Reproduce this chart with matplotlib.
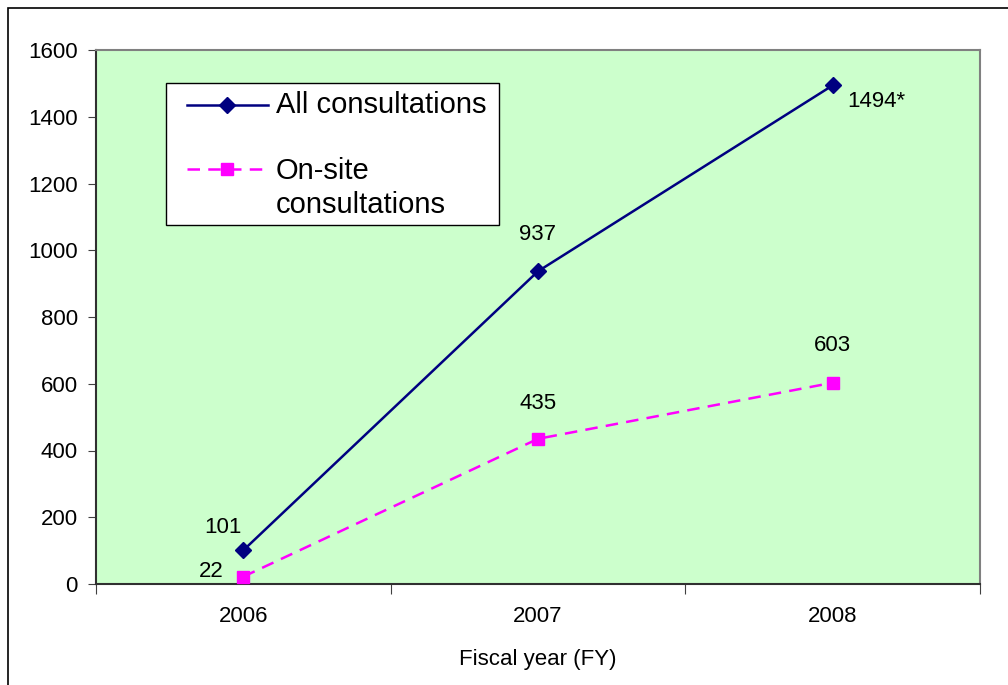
import matplotlib.pyplot as plt
from matplotlib.patches import Rectangle
from matplotlib.lines import Line2D
import numpy as np

plt.rcParams['font.family'] = ['Liberation Sans', 'DejaVu Sans']

# ===================== DATOS =====================
years = ["2006", "2007", "2008"]
all_consult = [101, 937, 1494]
onsite_consult = [22, 435, 603]
all_labels = ["101", "937", "1494*"]
onsite_labels = ["22", "435", "603"]
y_ticks = [0, 200, 400, 600, 800, 1000, 1200, 1400, 1600]
# =================================================

NAVY = "#000080"
MAGENTA = "#FF00FF"
DASH = (0, (5, 3.3))
LW = 1.8

fig = plt.figure(figsize=(10.08, 6.85), dpi=100)
ax = fig.add_axes([96 / 1008, 1 - 584 / 685, (980 - 96) / 1008, (584 - 50) / 685])


def px(xp, yp):
    """Pasa coordenadas de píxel de la imagen a fracción de ejes."""
    return (xp - 96) / 884, (584 - yp) / 534


# borde exterior del gráfico
fig.patches.append(Rectangle((8 / 1008, -0.1), 1.2, 1 - 8 / 685 + 0.1,
                             transform=fig.transFigure, fill=False,
                             edgecolor="black", linewidth=1.2))

ax.set_facecolor("#CCFFCC")
x = np.arange(len(years))

ax.plot(x, all_consult, color=NAVY, linewidth=LW, marker="D",
        markersize=8, zorder=3)
ax.plot(x, onsite_consult, color=MAGENTA, linewidth=LW, linestyle=DASH,
        marker="s", markersize=9, zorder=3)

# etiquetas de datos (desplazamiento en píxeles)
offs_all = [(-20, 23, "center"), (0, 37, "center"), (15, -16, "left")]
for xi, v, lab, (dx, dy, ha) in zip(x, all_consult, all_labels, offs_all):
    ax.annotate(lab, (xi, v), xytext=(dx, dy), textcoords="offset pixels",
                ha=ha, va="center", fontsize=16)
offs_on = [(-20, 5, "right"), (0, 35, "center"), (0, 37, "center")]
for xi, v, lab, (dx, dy, ha) in zip(x, onsite_consult, onsite_labels, offs_on):
    ax.annotate(lab, (xi, v), xytext=(dx, dy), textcoords="offset pixels",
                ha=ha, va="center", fontsize=16)

ax.set_xlim(-0.5, 2.5)
ax.set_ylim(0, 1600)
ax.set_yticks(y_ticks)
ax.set_yticklabels([str(t) for t in y_ticks], fontsize=16)
ax.set_xticks([-0.5, 0.5, 1.5, 2.5])
ax.set_xticklabels([])
ax.set_xticks(x, minor=True)
ax.set_xticklabels(years, minor=True, fontsize=16)
ax.tick_params(axis="x", which="minor", length=0, pad=16)
ax.tick_params(axis="x", which="major", length=7, direction="out", color="#404040")
ax.tick_params(axis="y", length=6, direction="out", color="#404040", pad=7)
ax.set_xlabel("Fiscal year (FY)", fontsize=16, labelpad=16)

for side in ["top", "right"]:
    ax.spines[side].set_color("#808080")
    ax.spines[side].set_linewidth(1.5)
for side in ["left", "bottom"]:
    ax.spines[side].set_color("#303030")
    ax.spines[side].set_linewidth(1.5)

# leyenda dibujada a mano (estilo Excel)
x0, y0 = px(166, 225)
x1, y1 = px(499, 83)
ax.add_patch(Rectangle((x0, y0), x1 - x0, y1 - y0, transform=ax.transAxes,
                       facecolor="white", edgecolor="black", linewidth=1.0, zorder=5))
for yp, col, ls, mk, ms in [(105, NAVY, "-", "D", 8), (169, MAGENTA, DASH, "s", 9)]:
    xa, ya = px(187, yp)
    xb, _ = px(268, yp)
    xm, _ = px(227, yp)
    ax.add_line(Line2D([xa, xb], [ya, ya], transform=ax.transAxes, color=col,
                       linewidth=LW, linestyle=ls, zorder=6))
    ax.add_line(Line2D([xm], [ya], transform=ax.transAxes, color=col,
                       marker=mk, markersize=ms, zorder=7))
tx, ty = px(276, 105)
ax.text(tx, ty, "All consultations", transform=ax.transAxes, fontsize=21,
        ha="left", va="center", zorder=7)
tx, ty = px(276, 188)
ax.text(tx, ty, "On-site\nconsultations", transform=ax.transAxes, fontsize=21,
        ha="left", va="center", linespacing=1.25, zorder=7)

plt.savefig("out.png", dpi=100)
